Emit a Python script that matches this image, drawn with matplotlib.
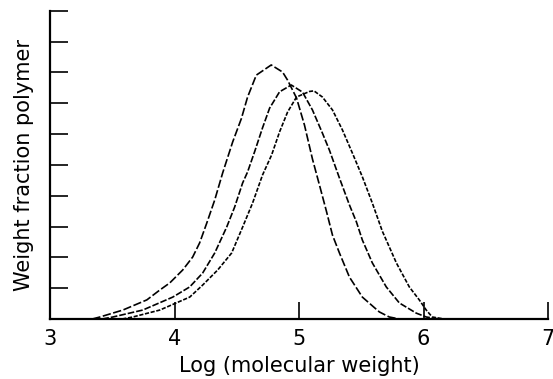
import matplotlib
matplotlib.use("Agg")
import matplotlib.pyplot as plt

plt.rcParams['font.family'] = ['DejaVu Sans']

# Curve A (leftmost, highest peak)
a_x = [3.34, 3.401, 3.585, 3.778, 3.882, 3.962, 4.066, 4.146, 4.202, 4.259, 4.323, 4.387,
       4.467, 4.537, 4.587, 4.657, 4.777, 4.868, 4.908, 4.980, 5.044, 5.108, 5.164,
       5.220, 5.269, 5.325, 5.405, 5.509, 5.645, 5.725, 5.806]
a_y = [0.0, 0.065, 0.29, 0.62, 0.94, 1.17, 1.59, 2.01, 2.47, 3.11, 3.86, 4.74,
       5.74, 6.50, 7.20, 7.91, 8.24, 8.01, 7.75, 7.17, 6.29, 5.19, 4.35,
       3.50, 2.72, 2.14, 1.36, 0.71, 0.23, 0.065, 0.0]

# Curve B (middle)
b_x = [3.42, 3.505, 3.745, 3.986, 4.122, 4.226, 4.323, 4.419, 4.483, 4.547, 4.587, 4.643,
       4.707, 4.764, 4.844, 4.938, 5.028, 5.108, 5.188, 5.244, 5.325, 5.405, 5.461,
       5.509, 5.589, 5.701, 5.806, 5.942, 6.022, 6.126]
b_y = [0.0, 0.065, 0.29, 0.71, 1.04, 1.49, 2.14, 2.98, 3.63, 4.41, 4.77, 5.42,
       6.20, 6.84, 7.37, 7.59, 7.36, 6.78, 6.03, 5.48, 4.57, 3.70, 3.15,
       2.56, 1.82, 1.04, 0.52, 0.19, 0.065, 0.0]

# Curve C (rightmost)
c_x = [3.58, 3.665, 3.882, 4.122, 4.226, 4.347, 4.459, 4.547, 4.627, 4.707, 4.780, 4.844,
       4.908, 4.980, 5.084, 5.120, 5.188, 5.269, 5.349, 5.429, 5.509, 5.589, 5.669,
       5.701, 5.782, 5.886, 5.966, 6.022, 6.070, 6.166]
c_y = [0.0, 0.065, 0.29, 0.71, 1.10, 1.59, 2.14, 2.98, 3.76, 4.67, 5.32, 6.07,
       6.71, 7.20, 7.38, 7.40, 7.20, 6.78, 6.13, 5.38, 4.61, 3.76, 2.85,
       2.56, 1.82, 1.04, 0.62, 0.29, 0.065, 0.0]

x_ticks = [3, 4, 5, 6, 7]
y_ticks = list(range(0, 11))

fig = plt.figure(figsize=(5.53, 3.79), dpi=100)
ax = fig.add_axes([50 / 553, 60 / 379, 498 / 553, 308.3 / 379])

ax.plot(a_x, a_y, color='black', lw=1.2, dashes=(5, 1.5))
ax.plot(b_x, b_y, color='black', lw=1.2, dashes=(4, 1.2))
ax.plot(c_x, c_y, color='black', lw=1.2, dashes=(2.5, 1.0))

ax.set_xlim(3, 7)
ax.set_ylim(0, 10)
ax.set_xticks(x_ticks)
ax.set_xticklabels([str(t) for t in x_ticks])
ax.set_yticks(y_ticks)
ax.set_yticklabels([])

for s in ['top', 'right']:
    ax.spines[s].set_visible(False)
for s in ['left', 'bottom']:
    ax.spines[s].set_linewidth(1.6)

ax.tick_params(axis='x', direction='in', length=12, width=1.2, labelsize=15, pad=7)
ax.tick_params(axis='y', direction='in', length=13, width=1.2)

ax.set_xlabel('Log (molecular weight)', fontsize=15, labelpad=5)
ax.set_ylabel('Weight fraction polymer', fontsize=15, labelpad=8)

fig.savefig('out.png', dpi=100)
